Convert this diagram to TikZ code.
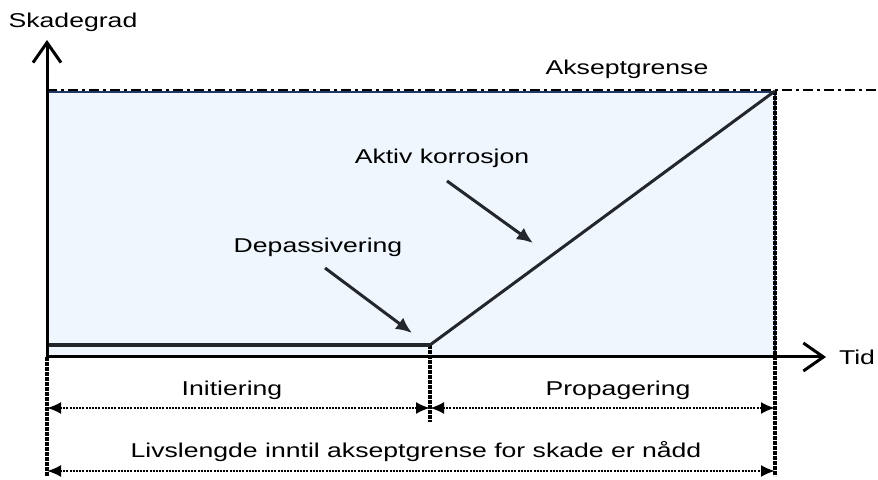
\documentclass[tikz,border=0pt]{standalone}
\usepackage{fontspec}
\setmainfont{Liberation Sans}[FakeStretch=1.33]
\usetikzlibrary{arrows.meta, positioning}
\definecolor{fillblue}{RGB}{239,246,254}
\definecolor{edgeblue}{RGB}{31,56,100}
\definecolor{darkline}{RGB}{35,38,42}

\begin{document}
\begin{tikzpicture}[x=0.5pt, y=-0.5pt, font=\fontsize{10}{12}\selectfont]
    \tikzset{
        axis/.style={line width=1.5pt, -{Straight Barb[length=10pt, width=14pt]}},
        curve/.style={line width=1.5pt, draw=darkline},
        marker/.style={line width=2pt, dash pattern=on 2pt off 0.5pt},
        span/.style={line width=1.1pt, dash pattern=on 1pt off 0.6pt,
                     {Latex[length=7pt, width=6pt]}-{Latex[length=7pt, width=6pt]}},
        pointer/.style={line width=1.5pt, draw=darkline, -{Latex[length=8pt, width=7pt]}},
        limit/.style={line width=1.3pt, dash pattern=on 5pt off 2pt on 1.5pt off 2pt}
    }
    \useasboundingbox (0,0) rectangle (878,480);
    % key points
    \coordinate (o)    at (47,357);
    \coordinate (ymax) at (47,40);
    \coordinate (xmax) at (826,357);
    \coordinate (dep)  at (430,345);
    \coordinate (top)  at (775,91);
    \coordinate (start) at (47,345);
    \coordinate (limitend) at (877,90);
    \coordinate (limitstart) at (47,90);
    % field
    \fill[fillblue] (47,92) rectangle (775,357);
    \draw[edgeblue, line width=0.6pt] (47,92) rectangle (775,356);
    \draw[limit] (limitstart) -- (limitend);
    % markers
    \coordinate (m1) at (47,476);
    \coordinate (m2) at (430,422);
    \coordinate (m3) at (775,476);
    \draw[marker] (o) -- (m1);
    \draw[marker] (dep) -- (m2);
    \draw[marker] (top) -- (m3);
    % damage curve
    \draw[curve, line width=2pt] (start) -- (dep);
    \draw[curve] (dep) -- (top);
    % axes
    \draw[axis] (o) -- (ymax);
    \draw[axis] (o) -- (xmax);
    \node (skadegrad) at (73,22)  {Skadegrad};
    \node (tid)       at (857,357) {Tid};
    \node (aksept)    at (627,69) {Akseptgrense};
    % pointers
    \node (aktiv) at (442,158) {Aktiv korrosjon};
    \node (depass) at (318,247) {Depassivering};
    \coordinate (a1) at (447,181);
    \coordinate (a2) at (533,243);
    \coordinate (d1) at (325,268);
    \coordinate (d2) at (412,333);
    \draw[pointer] (a1) -- (a2);
    \draw[pointer] (d1) -- (d2);
    % spans
    \coordinate (s1) at (47,408);
    \coordinate (s2) at (430,408);
    \coordinate (s3) at (775,408);
    \coordinate (s4) at (47,471);
    \coordinate (s5) at (775,471);
    \draw[span] (s1) -- (s2);
    \draw[span] (s2) -- (s3);
    \draw[span] (s4) -- (s5);
    \node (init) at (232,390) {Initiering};
    \node (prop) at (618,390) {Propagering};
    \node (life) at (416,452) {Livslengde inntil akseptgrense for skade er nådd};
\end{tikzpicture}
\end{document}
